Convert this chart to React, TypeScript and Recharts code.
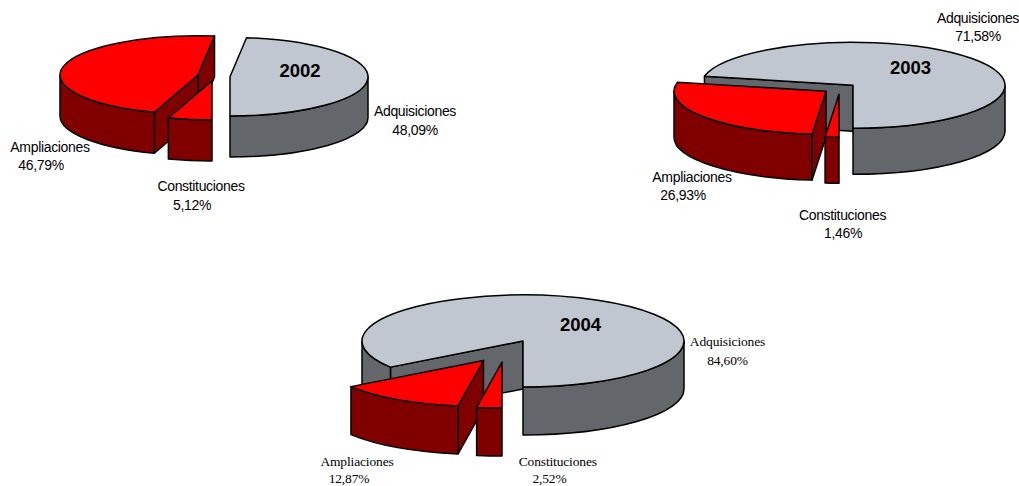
import { Pie, PieChart } from "recharts";

const categories = ["Adquisiciones", "Ampliaciones", "Constituciones"];
const values2002 = [48.09, 46.79, 5.12];
const values2003 = [71.58, 26.93, 1.46];
const values2004 = [84.6, 12.87, 2.52];

const topColors = ["#c1c7d0", "#ff0000", "#ff0000"];
const wallColors = ["#63666b", "#800000", "#800000"];

const toRows = (values: number[]) => values.map((value, i) => ({ name: categories[i], value }));

// geometry of each tilted pie, label spots are [name x, name y, value x, value y]
const pies = [
  {
    year: "2002",
    values: values2002,
    cx: 230,
    cy: 76.7,
    rx: 138,
    ry: 39.3,
    depth: 41,
    yearPos: [300, 77],
    explode: [[0, 0], [-32, -1.7], [-18, 4]],
    labels: [[415, 116, 415, 135], [50, 152, 41, 170], [201, 191, 192, 210]],
    font: "'Liberation Sans', Arial, sans-serif",
    fontSize: 14,
    spacing: -0.33
  },
  {
    year: "2003",
    values: values2003,
    cx: 853,
    cy: 85.3,
    rx: 152,
    ry: 43,
    depth: 46,
    yearPos: [910.5, 74],
    explode: [[0, 0], [-27, 6], [-14, 9]],
    labels: [[978, 23, 978, 41], [692, 182, 683, 200], [842.5, 220, 843, 238]],
    font: "'Liberation Sans', Arial, sans-serif",
    fontSize: 14,
    spacing: -0.33
  },
  {
    year: "2004",
    values: values2004,
    cx: 523,
    cy: 341,
    rx: 161,
    ry: 46,
    depth: 48,
    yearPos: [580.5, 331],
    explode: [[0, 0], [-39.5, 19.5], [-21, 21]],
    labels: [[727.5, 346, 727.5, 365], [357, 466, 349, 483], [557.8, 466, 549.5, 483]],
    font: "'Liberation Serif', 'Times New Roman', serif",
    fontSize: 13.5,
    spacing: -0.15
  }
];

type PieSpec = (typeof pies)[number];

const rad = (a: number) => (a * Math.PI) / 180;

function makeSlice(spec: PieSpec) {
  return function Slice(props: any) {
    const { startAngle, endAngle, outerRadius, cx, cy, name } = props;
    const i = categories.indexOf(name);
    const rx = outerRadius;
    const { ry, depth } = spec;
    const ox = cx + spec.explode[i][0];
    const oy = cy + spec.explode[i][1];
    const pt = (a: number, d = 0) => [ox + rx * Math.cos(rad(a)), oy - ry * Math.sin(rad(a)) + d];
    const start = pt(startAngle);
    const end = pt(endAngle);
    const large = endAngle - startAngle > 180 ? 1 : 0;

    const radial = (a: number) => {
      const p = pt(a);
      return `M${ox},${oy}L${p[0]},${p[1]}L${p[0]},${p[1] + depth}L${ox},${oy + depth}Z`;
    };

    // outer wall only where the rim faces the viewer
    const rims: string[] = [];
    for (let k = -1; k < 2; k++) {
      const a = Math.max(startAngle, 180 + k * 360);
      const b = Math.min(endAngle, 360 + k * 360);
      if (b > a) {
        const p = pt(a);
        const q = pt(b);
        rims.push(
          `M${p[0]},${p[1]}A${rx},${ry} 0 0 0 ${q[0]},${q[1]}L${q[0]},${q[1] + depth}A${rx},${ry} 0 0 1 ${p[0]},${p[1] + depth}Z`
        );
      }
    }

    const line = { stroke: "#000", strokeWidth: 1.5, strokeLinejoin: "round" as const };
    return (
      <g>
        {Math.cos(rad(startAngle)) > 0.001 && <path d={radial(startAngle)} fill={wallColors[i]} {...line} />}
        {Math.cos(rad(endAngle)) < -0.001 && <path d={radial(endAngle)} fill={wallColors[i]} {...line} />}
        {rims.map((d) => (
          <path key={d} d={d} fill={wallColors[i]} {...line} />
        ))}
        <path
          d={`M${ox},${oy}L${start[0]},${start[1]}A${rx},${ry} 0 ${large} 0 ${end[0]},${end[1]}Z`}
          fill={topColors[i]}
          {...line}
        />
      </g>
    );
  };
}

function makeLabel(spec: PieSpec) {
  return function SliceLabel(props: any) {
    const i = props.index;
    const [nx, ny, vx, vy] = spec.labels[i];
    const style = {
      fontFamily: spec.font,
      fontSize: spec.fontSize,
      letterSpacing: spec.spacing,
      fill: "#000"
    };
    return (
      <g>
        <text x={nx} y={ny} textAnchor="middle" style={style}>
          {categories[i]}
        </text>
        <text x={vx} y={vy} textAnchor="middle" style={style}>
          {spec.values[i].toFixed(2).replace(".", ",")}%
        </text>
        {/* the year sits on the big grey slice */}
        {i === 0 && (
          <text
            x={spec.yearPos[0]}
            y={spec.yearPos[1]}
            textAnchor="middle"
            style={{ fontFamily: "'Liberation Sans', Arial, sans-serif", fontSize: 18.5, fontWeight: 700, fill: "#000" }}
          >
            {spec.year}
          </text>
        )}
      </g>
    );
  };
}

export default function App() {
  return (
    <div style={{ position: "absolute", left: 0, top: 0, width: 1019, height: 486, background: "#fff", overflow: "hidden" }}>
      <PieChart width={1019} height={486} margin={{ top: 0, right: 0, bottom: 0, left: 0 }}>
        {pies.map((spec) => (
          <Pie
            key={spec.year}
            data={toRows(spec.values)}
            dataKey="value"
            nameKey="name"
            cx={spec.cx}
            cy={spec.cy}
            innerRadius={0}
            outerRadius={spec.rx}
            startAngle={-90}
            endAngle={270}
            stroke="none"
            shape={makeSlice(spec)}
            label={makeLabel(spec)}
            labelLine={false}
            isAnimationActive={false}
          />
        ))}
      </PieChart>
    </div>
  );
}
